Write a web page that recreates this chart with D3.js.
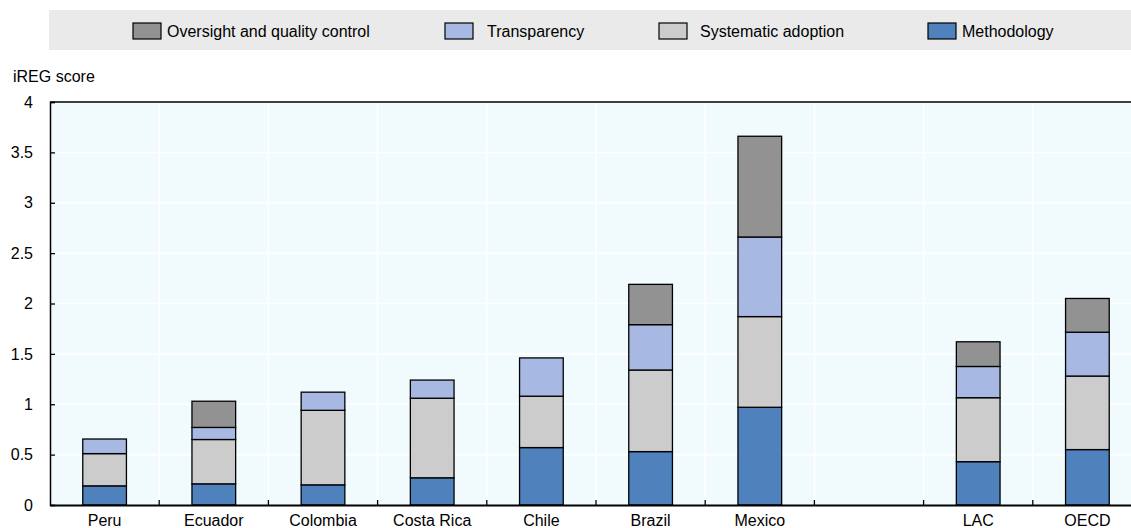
<!DOCTYPE html>
<html>
<head>
<meta charset="utf-8">
<script src="https://cdn.jsdelivr.net/npm/d3@7"></script>
<style>
  body { margin: 0; background: #fff; }
  svg text { font-family: "Liberation Sans Narrow", "Arial Narrow", "Liberation Sans", sans-serif; fill: #000; }
</style>
</head>
<body>
<div id="chart"></div>
<script>
const countries = ["Peru", "Ecuador", "Colombia", "Costa Rica", "Chile", "Brazil", "Mexico", "", "LAC", "OECD"];

const methodology = [0.19, 0.21, 0.20, 0.27, 0.57, 0.53, 0.97, null, 0.43, 0.55];
const systematic  = [0.32, 0.44, 0.74, 0.79, 0.51, 0.81, 0.90, null, 0.635, 0.73];
const transparency = [0.145, 0.12, 0.18, 0.18, 0.38, 0.45, 0.79, null, 0.31, 0.435];
const oversight   = [0, 0.26, 0, 0, 0, 0.40, 1.0, null, 0.245, 0.335];

const yTicks = [0, 0.5, 1, 1.5, 2, 2.5, 3, 3.5, 4];

const seriesNames = ["Methodology", "Systematic adoption", "Transparency", "Oversight and quality control"];
const legendOrder = ["Oversight and quality control", "Transparency", "Systematic adoption", "Methodology"];

const color = d3.scaleOrdinal()
  .domain(seriesNames)
  .range(["#4f81bd", "#cccccc", "#a7b9e3", "#929292"]);

const width = 1131, height = 528;
const plot = { left: 50, right: 1142, top: 102, bottom: 505 };

const svg = d3.select("#chart")
  .append("svg")
  .attr("width", width)
  .attr("height", height);

const rows = countries.map((c, i) => ({
  country: c,
  "Methodology": methodology[i] || 0,
  "Systematic adoption": systematic[i] || 0,
  "Transparency": transparency[i] || 0,
  "Oversight and quality control": oversight[i] || 0
}));

const stacked = d3.stack().keys(seriesNames)(rows);

const x = d3.scaleBand()
  .domain(countries.map((c, i) => i))
  .range([plot.left, plot.right])
  .paddingInner(0)
  .paddingOuter(0);

const y = d3.scaleLinear()
  .domain([0, 4])
  .range([plot.bottom, plot.top]);

// legend
svg.append("rect")
  .attr("x", 49).attr("y", 10)
  .attr("width", width - 49).attr("height", 40)
  .attr("fill", "#eaeaea");

const legendSwatchX = [133, 445, 659, 928];
const legendTextX = [167, 487, 700, 962];

legendOrder.forEach((name, i) => {
  svg.append("rect")
    .attr("x", legendSwatchX[i]).attr("y", 23)
    .attr("width", 28).attr("height", 16)
    .attr("fill", color(name))
    .attr("stroke", "#000")
    .attr("stroke-width", 1.2);
  svg.append("text")
    .attr("x", legendTextX[i]).attr("y", 37)
    .style("font-size", "16px")
    .text(name);
});

// plot background
svg.append("rect")
  .attr("x", plot.left).attr("y", plot.top)
  .attr("width", plot.right - plot.left).attr("height", plot.bottom - plot.top)
  .attr("fill", "#f1fbfe");

// gridlines
svg.append("g")
  .selectAll("line")
  .data(yTicks.slice(1, -1))
  .join("line")
  .attr("x1", plot.left).attr("x2", plot.right)
  .attr("y1", d => y(d)).attr("y2", d => y(d))
  .attr("stroke", "#fff")
  .attr("stroke-width", 1.5);

const bounds = countries.slice(1).map((c, i) => x(i + 1));

svg.append("g")
  .selectAll("line")
  .data(bounds)
  .join("line")
  .attr("x1", d => d).attr("x2", d => d)
  .attr("y1", plot.top).attr("y2", plot.bottom)
  .attr("stroke", "#fff")
  .attr("stroke-width", 1.5);

// bars
const barW = x.bandwidth() * 0.4;

stacked.forEach(layer => {
  svg.append("g")
    .selectAll("rect")
    .data(layer.filter(d => d[1] - d[0] > 0))
    .join("rect")
    .attr("x", d => x(countries.indexOf(d.data.country)) + (x.bandwidth() - barW) / 2)
    .attr("y", d => y(d[1]))
    .attr("width", barW)
    .attr("height", d => y(d[0]) - y(d[1]))
    .attr("fill", color(layer.key))
    .attr("stroke", "#000")
    .attr("stroke-width", 1.3);
});

// axes frame
svg.append("line")
  .attr("x1", plot.left).attr("x2", plot.right)
  .attr("y1", plot.top).attr("y2", plot.top)
  .attr("stroke", "#000").attr("stroke-width", 1.5);

const yAxis = d3.axisLeft(y)
  .tickValues(yTicks)
  .tickSize(-5)
  .tickPadding(17)
  .tickFormat(d3.format("~g"));

const gy = svg.append("g")
  .attr("transform", `translate(${plot.left},0)`)
  .call(yAxis);
gy.select(".domain").attr("stroke-width", 1.5);
gy.selectAll(".tick line").attr("stroke-width", 1.3);
gy.selectAll("text").style("font-size", "16px");

const gx = svg.append("g")
  .attr("transform", `translate(0,${plot.bottom})`)
  .call(d3.axisBottom(x).tickSize(0).tickPadding(10).tickFormat(i => countries[i]));
gx.select(".domain").attr("stroke-width", 1.8);
gx.selectAll("text").style("font-size", "16px");

svg.append("g")
  .selectAll("line")
  .data(bounds)
  .join("line")
  .attr("x1", d => d).attr("x2", d => d)
  .attr("y1", plot.bottom).attr("y2", plot.bottom - 5)
  .attr("stroke", "#000")
  .attr("stroke-width", 1.3);

svg.append("text")
  .attr("x", 13).attr("y", 82)
  .style("font-size", "16px")
  .text("iREG score");
</script>
</body>
</html>
